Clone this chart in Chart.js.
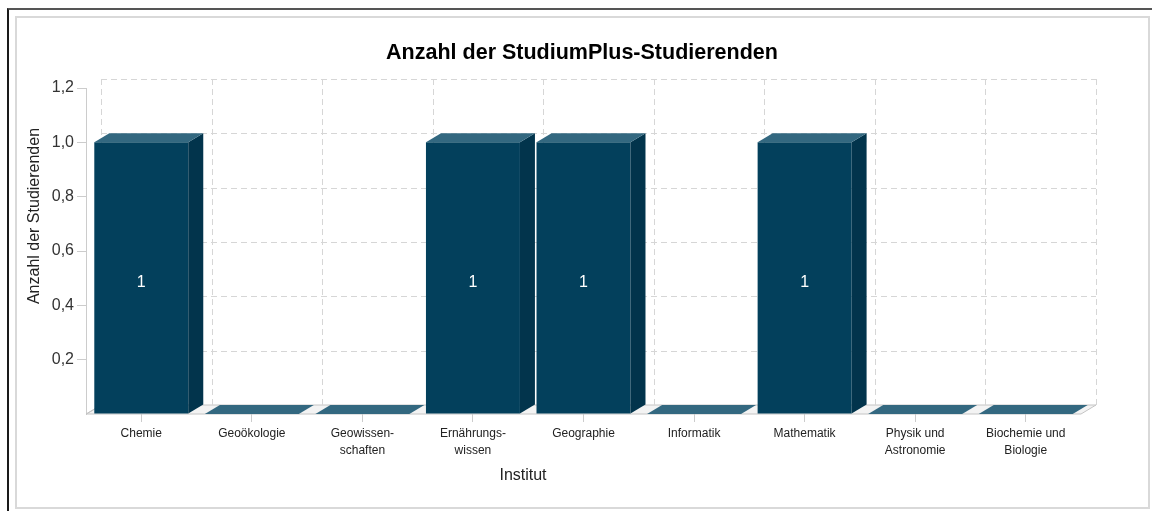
<!DOCTYPE html>
<html>
<head>
<meta charset="utf-8">
<script src="https://cdn.jsdelivr.net/npm/chart.js@4"></script>
<style>
  body { margin: 0; background: #fff; }
  #wrap { position: relative; width: 1152px; height: 511px; overflow: hidden; }
  #outer { position: absolute; left: 7px; top: 8px; right: -4px; bottom: -4px;
           border-left: 2px solid #1a1a1a; border-top: 2px solid #555; }
  #inner { position: absolute; left: 15px; top: 16px; width: 1131px; height: 489px;
           border: 2px solid #d9d9d9; }
  canvas { position: absolute; left: 0; top: 0; }
</style>
</head>
<body>
<div id="wrap">
  <div id="outer"></div>
  <div id="inner"></div>
  <canvas id="chart1" width="1152" height="511"></canvas>
</div>
<script>
const FONT = "'Liberation Sans', Arial, sans-serif";

const institute = [
  ['Chemie'],
  ['Geoökologie'],
  ['Geowissen-', 'schaften'],
  ['Ernährungs-', 'wissen'],
  ['Geographie'],
  ['Informatik'],
  ['Mathematik'],
  ['Physik und', 'Astronomie'],
  ['Biochemie und', 'Biologie'],
];

const studierende = [1, 0, 0, 1, 1, 0, 1, 0, 0];

const yMin = 0;
const yMax = 1.2;
const yStep = 0.2;

// 3D-Tiefe der Balken und der Rückwand
const DX = 15;
const DY = -9;

function poly(ctx, pts, fill, stroke) {
  ctx.beginPath();
  ctx.moveTo(pts[0][0], pts[0][1]);
  for (let i = 1; i < pts.length; i++) ctx.lineTo(pts[i][0], pts[i][1]);
  ctx.closePath();
  if (fill) { ctx.fillStyle = fill; ctx.fill(); }
  if (stroke) { ctx.strokeStyle = stroke; ctx.lineWidth = 1; ctx.stroke(); }
}

const bars3d = {
  id: 'bars3d',
  beforeDatasetsDraw(chart) {
    const { ctx, chartArea: a, scales } = chart;
    const y = scales.y, x = scales.x;
    ctx.save();
    // Boden
    poly(ctx, [[a.left, a.bottom], [a.right, a.bottom], [a.right + DX, a.bottom + DY], [a.left + DX, a.bottom + DY]],
      '#f3f3f3', '#c4c4c4');
    // Rückwand: gestrichelte Gitterlinien
    ctx.setLineDash([6, 4]);
    ctx.strokeStyle = '#d6d6d6';
    ctx.lineWidth = 1;
    y.ticks.forEach(t => {
      if (t.value === 0) return;
      const py = Math.round(y.getPixelForValue(t.value) + DY) + 0.5;
      ctx.beginPath();
      ctx.moveTo(a.left + DX, py);
      ctx.lineTo(a.right + DX, py);
      ctx.stroke();
    });
    const n = institute.length;
    const catW = (x.right - x.left) / n;
    for (let i = 0; i <= n; i++) {
      const px = Math.round(x.left + i * catW + DX) + 0.5;
      ctx.beginPath();
      ctx.moveTo(px, a.top + DY);
      ctx.lineTo(px, a.bottom + DY);
      ctx.stroke();
    }
    ctx.setLineDash([]);
    // linke Wandkante
    ctx.strokeStyle = '#c4c4c4';
    ctx.beginPath();
    ctx.moveTo(a.left + 0.5, a.bottom);
    ctx.lineTo(a.left + DX + 0.5, a.bottom + DY);
    ctx.stroke();
    ctx.restore();
  },
  afterDatasetsDraw(chart) {
    const { ctx } = chart;
    const meta = chart.getDatasetMeta(0);
    ctx.save();
    meta.data.forEach((bar, i) => {
      const p = bar.getProps(['x', 'y', 'base', 'width'], true);
      const l = p.x - p.width / 2, r = p.x + p.width / 2;
      // Seite
      poly(ctx, [[r, p.y], [r + DX, p.y + DY], [r + DX, p.base + DY], [r, p.base]], '#02344c');
      // Deckel
      poly(ctx, [[l, p.y], [r, p.y], [r + DX, p.y + DY], [l + DX, p.y + DY]], '#336880');
      if (studierende[i] > 0) {
        ctx.fillStyle = '#ffffff';
        ctx.font = '16px ' + FONT;
        ctx.textAlign = 'center';
        ctx.textBaseline = 'middle';
        ctx.fillText(String(studierende[i]), p.x, (p.y + p.base) / 2 + 5);
      }
    });
    ctx.restore();
  },
  afterDraw(chart) {
    const { ctx } = chart;
    ctx.save();
    ctx.textAlign = 'center';
    ctx.textBaseline = 'middle';
    ctx.fillStyle = '#000';
    ctx.font = 'bold 21.5px ' + FONT;
    ctx.fillText('Anzahl der StudiumPlus-Studierenden', 582, 53.5);
    ctx.fillStyle = '#222';
    ctx.font = '16px ' + FONT;
    ctx.fillText('Institut', 523, 476);
    ctx.translate(35, 216);
    ctx.rotate(-Math.PI / 2);
    ctx.fillText('Anzahl der Studierenden', 0, 0);
    ctx.restore();
  }
};

const data = {
  labels: institute,
  datasets: [{
    label: 'Anzahl der Studierenden',
    data: studierende,
    backgroundColor: '#03405c',
    borderWidth: 0,
    barPercentage: 0.85,
    categoryPercentage: 1.0,
  }]
};

const config = {
  type: 'bar',
  data: data,
  options: {
    responsive: false,
    animation: false,
    devicePixelRatio: 1,
    layout: { padding: { left: 0, right: 71, top: 88, bottom: 0 } },
    plugins: {
      legend: { display: false },
      tooltip: { enabled: false },
      title: { display: false },
    },
    scales: {
      x: {
        afterFit(s) { s.height = 97; },
        grid: { offset: false, drawOnChartArea: false, tickLength: 8, color: '#cccccc' },
        border: { display: false },
        ticks: {
          autoSkip: false, maxRotation: 0, padding: 3,
          color: '#222', font: { size: 12, family: FONT, lineHeight: 1.4 },
        },
      },
      y: {
        min: yMin,
        max: yMax,
        afterFit(s) { s.width = 86; },
        grid: {
          drawOnChartArea: false, tickLength: 9,
          color: c => (c.tick && c.tick.value === 0 ? 'rgba(0,0,0,0)' : '#cccccc'),
        },
        border: { display: true, color: '#cccccc' },
        ticks: {
          stepSize: yStep, padding: 3,
          color: '#333', font: { size: 16, family: FONT },
          callback: v => (v === 0 ? '' : v.toFixed(1).replace('.', ',')),
        },
      },
    },
  },
  plugins: [bars3d],
};

const myChart = new Chart(document.getElementById('chart1'), config);
</script>
</body>
</html>
